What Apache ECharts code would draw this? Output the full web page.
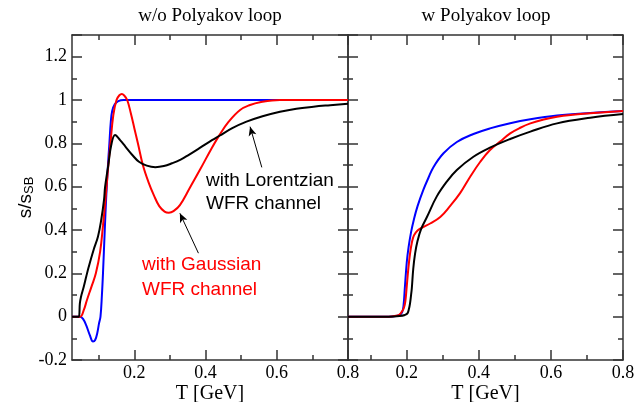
<!DOCTYPE html>
<html><head><meta charset="utf-8">
<script src="https://cdn.jsdelivr.net/npm/echarts@6/dist/echarts.min.js"></script>
<style>html,body{margin:0;padding:0;background:#fff}#c{width:638px;height:402px}</style>
</head><body><div id="c"></div>
<script>
// ---- data ----
const panelTitles = ['w/o Polyakov loop', 'w Polyakov loop'];
const xName = 'T [GeV]';
const xLabelValues = [0.2, 0.4, 0.6, 0.8];
const xMajorStep = 0.2, xMinorStep = 0.1;
const yLabelValues = [-0.2, 0, 0.2, 0.4, 0.6, 0.8, 1, 1.2];
const yMajorStep = 0.2, yMinorStep = 0.1;

// left panel: w/o Polyakov loop
const woBlue = [[0.025,0],[0.048,0],[0.056,-0.01],[0.065,-0.04],[0.075,-0.085],[0.084,-0.115],[0.09,-0.108],[0.096,-0.075],[0.101,-0.03],[0.105,0],[0.109,0.1],[0.112,0.2],[0.117,0.4],[0.121,0.55],[0.126,0.7],[0.13,0.8],[0.134,0.9],[0.138,0.95],[0.145,0.98],[0.155,0.995],[0.17,1],[0.2,1],[0.4,1],[0.8,1]];
const woRed = [[0.025,0],[0.048,0],[0.058,0.03],[0.067,0.077],[0.08,0.14],[0.092,0.2],[0.104,0.3],[0.112,0.42],[0.119,0.54],[0.126,0.68],[0.133,0.8],[0.141,0.93],[0.15,1.0],[0.158,1.022],[0.165,1.028],[0.172,1.02],[0.18,1.0],[0.19,0.94],[0.2,0.87],[0.21,0.8],[0.224,0.7],[0.24,0.62],[0.255,0.56],[0.27,0.51],[0.285,0.485],[0.297,0.48],[0.31,0.487],[0.328,0.515],[0.356,0.595],[0.385,0.68],[0.418,0.78],[0.439,0.838],[0.465,0.9],[0.497,0.954],[0.525,0.977],[0.553,0.99],[0.609,1.0],[0.8,1.0]];
const woBlack = [[0.025,0],[0.044,0],[0.047,0.06],[0.05,0.09],[0.058,0.138],[0.065,0.185],[0.072,0.23],[0.086,0.31],[0.098,0.37],[0.107,0.446],[0.115,0.54],[0.118,0.6],[0.127,0.7],[0.135,0.79],[0.146,0.838],[0.16,0.815],[0.175,0.785],[0.195,0.745],[0.213,0.715],[0.235,0.697],[0.259,0.69],[0.283,0.695],[0.306,0.708],[0.33,0.725],[0.352,0.746],[0.385,0.78],[0.418,0.815],[0.439,0.835],[0.475,0.87],[0.515,0.9],[0.56,0.925],[0.609,0.946],[0.655,0.96],[0.703,0.969],[0.75,0.976],[0.8,0.983]];

// right panel: w Polyakov loop
const wBlue = [[0.037,0],[0.15,0],[0.17,0.003],[0.18,0.008],[0.187,0.02],[0.191,0.05],[0.195,0.14],[0.2,0.25],[0.205,0.32],[0.212,0.39],[0.22,0.45],[0.23,0.51],[0.246,0.585],[0.26,0.64],[0.274,0.69],[0.302,0.754],[0.339,0.806],[0.385,0.843],[0.431,0.869],[0.487,0.893],[0.543,0.911],[0.617,0.928],[0.709,0.94],[0.8,0.949]];
const wRed = [[0.037,0],[0.15,0],[0.17,0.004],[0.18,0.01],[0.186,0.022],[0.192,0.04],[0.196,0.07],[0.2,0.14],[0.204,0.215],[0.209,0.29],[0.214,0.34],[0.22,0.375],[0.23,0.398],[0.244,0.412],[0.265,0.43],[0.293,0.46],[0.32,0.51],[0.348,0.57],[0.376,0.646],[0.404,0.715],[0.431,0.769],[0.459,0.808],[0.487,0.846],[0.515,0.872],[0.543,0.892],[0.58,0.91],[0.617,0.923],[0.66,0.932],[0.709,0.939],[0.8,0.949]];
const wBlack = [[0.037,0],[0.15,0],[0.18,0.003],[0.195,0.008],[0.202,0.015],[0.206,0.035],[0.209,0.06],[0.212,0.1],[0.214,0.13],[0.218,0.22],[0.223,0.29],[0.23,0.35],[0.24,0.405],[0.256,0.46],[0.283,0.554],[0.311,0.623],[0.339,0.677],[0.385,0.738],[0.431,0.78],[0.487,0.82],[0.543,0.854],[0.617,0.892],[0.709,0.918],[0.8,0.935]];

// annotations
const lorentzText = ['with Lorentzian', 'WFR channel'];
const gaussText = ['with Gaussian', 'WFR channel'];
const lorentzArrow = [[0.558, 0.689], [0.525, 0.877]];
const gaussArrow = [[0.38, 0.293], [0.328, 0.477]];

// ---- chart ----
const serif = 'Liberation Serif', sans = 'Liberation Sans';
const AX = '#333';
const xRange = [[0.025, 0.8], [0.037, 0.8]];
const yRange = [-0.2, 1.3];
const panelBox = [
  {left: 72, top: 35, width: 276, height: 325},
  {left: 348, top: 35, width: 275, height: 325}
];
const grids = [], xAxes = [], yAxes = [];
const dataAxisIdx = [];

function addGrid(box) {
  grids.push(Object.assign({outerBoundsMode: 'none', containLabel: false}, box));
  return grids.length - 1;
}

[0, 1].forEach(g => {
  const box = panelBox[g];
  const gi = addGrid(box);
  const xi = xAxes.length, yi = yAxes.length;
  dataAxisIdx.push([xi, yi]);
  ['bottom', 'top'].forEach(pos => {
    const lab = pos === 'bottom';
    xAxes.push({
      type: 'value', gridIndex: gi, position: pos,
      min: xRange[g][0], max: xRange[g][1],
      splitLine: {show: false},
      axisLine: {show: true, onZero: false, lineStyle: {color: AX, width: 1.5}},
      axisTick: {show: false},
      axisLabel: {show: lab, customValues: xLabelValues, margin: 4,
                  fontFamily: serif, fontSize: 18, color: '#000'},
      name: lab ? xName : '', nameLocation: 'middle', nameGap: 24, nameMoveOverlap: false,
      nameTextStyle: {fontFamily: serif, fontSize: 20, color: '#000'}
    });
  });
  ['left', 'right'].forEach(pos => {
    [true, false].forEach(major => {
      const lab = major && pos === 'left' && g === 0;
      yAxes.push({
        type: 'value', gridIndex: gi, position: pos,
        min: yRange[0], max: yRange[1], interval: major ? yMajorStep : yMinorStep,
        splitLine: {show: false},
        axisLine: {show: major, onZero: false, lineStyle: {color: AX, width: 1.5}},
        axisTick: {show: true, inside: true, length: major ? 10 : 5,
                   lineStyle: {color: AX, width: 1.5}},
        axisLabel: {show: lab, customValues: yLabelValues, margin: 5,
                    fontFamily: serif, fontSize: 18, color: '#000'},
        name: lab ? '{a|s/s}{b|SB}' : '', nameLocation: 'middle', nameRotate: 90, nameGap: 36,
        nameMoveOverlap: false,
        nameTextStyle: {fontFamily: sans, fontSize: 19, color: '#000',
          rich: {
            a: {fontFamily: sans, fontSize: 19, lineHeight: 20, verticalAlign: 'top', color: '#000'},
            b: {fontFamily: sans, fontSize: 13, lineHeight: 14, padding: [13, 0, 0, 0], verticalAlign: 'bottom', color: '#000'}
          }}
      });
    });
  });
  // tick-only grids for x ticks, aligned to the data scale
  const scale = box.width / (xRange[g][1] - xRange[g][0]);
  [[xMajorStep, 10], [xMinorStep, 5]].forEach(([step, len]) => {
    const tmin = Math.ceil(xRange[g][0] / step - 1e-9) * step;
    const tgi = addGrid({left: box.left + (tmin - xRange[g][0]) * scale,
                         width: (xRange[g][1] - tmin) * scale,
                         top: box.top, height: box.height});
    ['bottom', 'top'].forEach(pos => {
      xAxes.push({
        type: 'value', gridIndex: tgi, position: pos,
        min: +tmin.toFixed(6), max: xRange[g][1], interval: step,
        splitLine: {show: false}, axisLabel: {show: false},
        axisLine: {show: false, onZero: false},
        axisTick: {show: true, inside: true, length: len, lineStyle: {color: AX, width: 1.5}}
      });
    });
    yAxes.push({type: 'value', gridIndex: tgi, show: false, min: 0, max: 1, splitLine: {show: false}});
  });
});

function line(data, color, g, extra) {
  return Object.assign({
    type: 'line', data: data, xAxisIndex: dataAxisIdx[g][0], yAxisIndex: dataAxisIdx[g][1],
    showSymbol: false, symbol: 'none', smooth: 0.4,
    lineStyle: {color: color, width: 2}, itemStyle: {color: color},
    silent: true, z: 3
  }, extra || {});
}
function arrow(pts, curv) {
  return {
    silent: true, symbol: ['none', 'arrow'], symbolSize: [6, 9],
    label: {show: false}, emphasis: {disabled: true},
    lineStyle: {color: '#000', width: 1, type: 'solid', curveness: curv},
    data: [[{coord: pts[0]}, {coord: pts[1]}]]
  };
}
const txt = (t, x, y, color, size, fam, align) => ({
  type: 'text', x: x, y: y, silent: true,
  style: {text: t, fill: color, fontSize: size, fontFamily: fam,
          textAlign: align || 'left', textVerticalAlign: 'middle'}
});

const option = {
  animation: false,
  backgroundColor: '#fff',
  grid: grids,
  xAxis: xAxes,
  yAxis: yAxes,
  series: [
    line(woBlue, '#0000ff', 0),
    line(woRed, '#ff0000', 0, {markLine: arrow(gaussArrow, -0.3)}),
    line(woBlack, '#000000', 0, {markLine: arrow(lorentzArrow, -0.2)}),
    line(wBlue, '#0000ff', 1),
    line(wRed, '#ff0000', 1),
    line(wBlack, '#000000', 1)
  ],
  graphic: [
    txt(panelTitles[0], 210, 16, '#000', 19, serif, 'center'),
    txt(panelTitles[1], 486, 16, '#000', 19, serif, 'center'),
    txt(lorentzText[0], 206, 181, '#000', 19, sans),
    txt(lorentzText[1], 206, 204, '#000', 19, sans),
    txt(gaussText[0], 142, 265, '#ff0000', 19, sans),
    txt(gaussText[1], 142, 290, '#ff0000', 19, sans)
  ]
};
const chart = echarts.init(document.getElementById('c'), null, {renderer: 'canvas'});
chart.setOption(option);
</script></body></html>
